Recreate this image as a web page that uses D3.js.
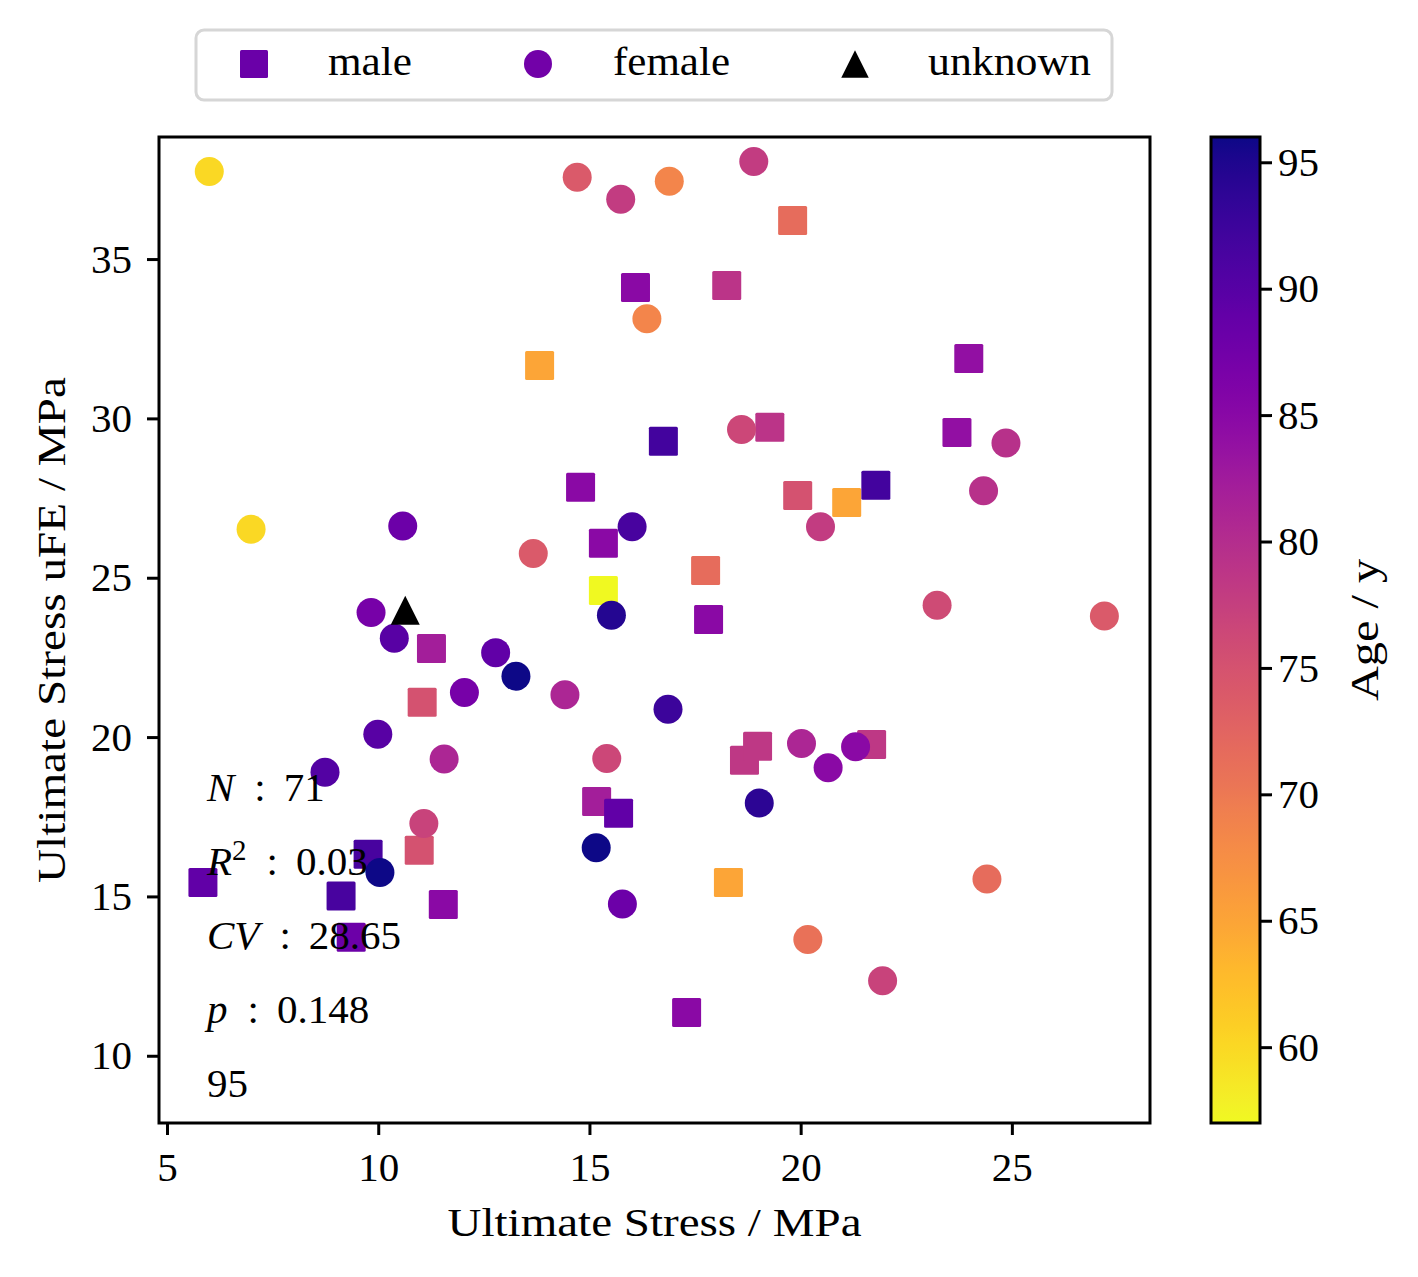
<!DOCTYPE html>
<html>
<head>
<meta charset="utf-8">
<script src="https://cdn.jsdelivr.net/npm/d3@7"></script>
<style>
  body { margin: 0; background: #fff; }
  text { font-family: "Liberation Serif", "DejaVu Serif", serif; fill: #000; }
</style>
</head>
<body>
<script>
// ---- data ----
var maleX   = [16.09, 13.82, 14.79, 15.33, 15.33, 11.26, 19.81, 18.25, 16.75, 19.27, 23.98, 23.70, 19.93, 21.09, 21.78, 17.75,
               17.82, 11.04, 15.17, 15.69, 9.76, 10.97, 5.85, 9.12, 11.54, 9.36, 18.67, 18.98, 21.68, 18.29, 17.30];
var maleY   = [34.11, 31.66, 27.84, 26.08, 24.60, 22.78, 36.21, 34.17, 29.28, 29.72, 31.88, 29.56, 27.58, 27.36, 27.90, 25.23,
               23.69, 21.09, 17.98, 17.61, 16.32, 16.45, 15.44, 15.01, 14.75, 13.72, 19.27, 19.71, 19.77, 15.44, 11.36];
var maleAge = [85, 65, 85, 85, 57, 82, 71.5, 79, 92, 79, 84, 84, 75, 65, 92, 71.5,
               85, 75, 82, 89, 91.5, 75, 89, 91.5, 85, 88, 78.5, 78.5, 78.5, 65, 85];

var femaleX   = [6.00, 14.71, 15.74, 16.36, 6.99, 10.58, 16.01, 13.67, 15.52, 9.83, 10.38, 16.89, 18.89, 18.60, 24.86, 20.47,
                 24.33, 23.23, 27.19, 12.78, 13.26, 12.04, 14.42, 9.99, 11.56, 15.41, 8.74, 15.16, 11.08, 10.04, 15.78, 16.86,
                 20.02, 20.65, 21.30, 19.02, 24.41, 20.17, 21.94];
var femaleY   = [37.75, 37.57, 36.88, 33.13, 26.52, 26.62, 26.60, 25.76, 23.82, 23.91, 23.10, 37.44, 38.06, 29.65, 29.23, 26.60,
                 27.73, 24.14, 23.80, 22.65, 21.91, 21.40, 21.33, 20.09, 19.31, 19.33, 18.90, 16.53, 17.29, 15.75, 14.76, 20.87,
                 19.80, 19.04, 19.70, 17.93, 15.55, 13.65, 12.35];
var femaleAge = [60, 74, 78, 68.5, 60, 88, 91.5, 74, 94.5, 87, 90, 68.5, 78, 76.5, 79.5, 78,
                 79.5, 76, 74, 89, 96, 87, 81, 90, 81, 76.5, 90.5, 96, 77, 96, 88, 92.5,
                 81, 85, 85, 94, 71.5, 71, 77];

var unknownX = [10.64];
var unknownY = [23.98];

var xTicks = [5, 10, 15, 20, 25];
var yTicks = [10, 15, 20, 25, 30, 35];
var ageTicks = [60, 65, 70, 75, 80, 85, 90, 95];

var legendLabels = ["male", "female", "unknown"];
var statNames  = ["N", "R", "CV", "p"];
var statValues = ["71", "0.03", "28.65", "0.148"];
var extraLine = "95";

// ---- layout ----
var W = 1418, H = 1277;
var plot = {left: 159, top: 137, width: 991, height: 986};
var cbar = {left: 1211, width: 49};
var fs = 41;
var mk = 29;   // marker size in px

var svg = d3.select("body").append("svg")
    .attr("width", W)
    .attr("height", H);

var x = d3.scaleLinear().domain([4.81, 28.27]).range([plot.left, plot.left + plot.width]);
var y = d3.scaleLinear().domain([7.89, 38.83]).range([plot.top + plot.height, plot.top]);
var ageScale = d3.scaleLinear().domain([57, 96]).range([plot.top + plot.height, plot.top]);
var color = function(a) { return d3.interpolatePlasma((96 - a) / (96 - 57)); };

function zip(xs, ys, as) {
  return xs.map(function(v, i) { return {x: v, y: ys[i], age: as ? as[i] : null}; });
}

// ---- points ----
var pts = svg.append("g");

pts.selectAll("rect.male")
  .data(zip(maleX, maleY, maleAge))
  .enter().append("rect")
    .attr("class", "male")
    .attr("x", function(d) { return x(d.x) - mk / 2; })
    .attr("y", function(d) { return y(d.y) - mk / 2; })
    .attr("width", mk)
    .attr("height", mk)
    .attr("rx", 1.5)
    .attr("fill", function(d) { return color(d.age); });

pts.selectAll("circle.female")
  .data(zip(femaleX, femaleY, femaleAge))
  .enter().append("circle")
    .attr("class", "female")
    .attr("cx", function(d) { return x(d.x); })
    .attr("cy", function(d) { return y(d.y); })
    .attr("r", mk / 2)
    .attr("fill", function(d) { return color(d.age); });

var tri = "M0," + (-mk / 2) + "L" + (mk / 2) + "," + (mk / 2) + "L" + (-mk / 2) + "," + (mk / 2) + "Z";

pts.selectAll("path.unknown")
  .data(zip(unknownX, unknownY))
  .enter().append("path")
    .attr("class", "unknown")
    .attr("d", tri)
    .attr("transform", function(d) { return "translate(" + x(d.x) + "," + y(d.y) + ")"; })
    .attr("fill", "#000");

// ---- stats text ----
var stats = svg.append("g").style("font-size", fs + "px");
statNames.forEach(function(n, i) {
  var t = stats.append("text")
      .attr("x", 207)
      .attr("y", 801 + i * 74);
  t.append("tspan").style("font-style", "italic").text(n);
  if (n === "R") {
    t.append("tspan").attr("dy", -15).style("font-size", "29px").text("2");
    t.append("tspan").attr("dy", 15).attr("dx", 20).text(":");
  } else {
    t.append("tspan").attr("dx", 20).text(":");
  }
  t.append("tspan").attr("dx", 18).text(statValues[i]);
});
stats.append("text")
    .attr("x", 207)
    .attr("y", 801 + 4 * 74)
    .text(extraLine);

// ---- frame ----
svg.append("rect")
    .attr("x", plot.left)
    .attr("y", plot.top)
    .attr("width", plot.width)
    .attr("height", plot.height)
    .attr("fill", "none")
    .attr("stroke", "#000")
    .attr("stroke-width", 3);

// ---- axes ----
function styleAxis(g) {
  g.select(".domain").remove();
  g.selectAll(".tick line").attr("stroke", "#000").attr("stroke-width", 3);
  g.selectAll(".tick text").style("font-size", fs + "px").attr("font-family", null);
}

svg.append("g")
    .attr("transform", "translate(0," + (plot.top + plot.height) + ")")
    .call(d3.axisBottom(x).tickValues(xTicks).tickSize(12).tickPadding(17).tickFormat(d3.format("d")))
    .call(styleAxis);

svg.append("g")
    .attr("transform", "translate(" + plot.left + ",0)")
    .call(d3.axisLeft(y).tickValues(yTicks).tickSize(12).tickPadding(15).tickFormat(d3.format("d")))
    .call(styleAxis);

svg.append("text")
    .attr("x", plot.left + plot.width / 2)
    .attr("y", 1236)
    .attr("text-anchor", "middle")
    .attr("textLength", 414)
    .attr("lengthAdjust", "spacingAndGlyphs")
    .style("font-size", fs + "px")
    .text("Ultimate Stress / MPa");

svg.append("text")
    .attr("transform", "translate(65," + (plot.top + plot.height / 2) + ")rotate(-90)")
    .attr("text-anchor", "middle")
    .attr("textLength", 506)
    .attr("lengthAdjust", "spacingAndGlyphs")
    .style("font-size", fs + "px")
    .text("Ultimate Stress uFE / MPa");

// ---- colorbar ----
var grad = svg.append("defs").append("linearGradient")
    .attr("id", "agegrad")
    .attr("x1", 0).attr("y1", 1).attr("x2", 0).attr("y2", 0);
d3.range(0, 1.0001, 0.02).forEach(function(t) {
  grad.append("stop")
      .attr("offset", t)
      .attr("stop-color", d3.interpolatePlasma(1 - t));
});

svg.append("rect")
    .attr("x", cbar.left)
    .attr("y", plot.top)
    .attr("width", cbar.width)
    .attr("height", plot.height)
    .attr("fill", "url(#agegrad)")
    .attr("stroke", "#000")
    .attr("stroke-width", 3);

svg.append("g")
    .attr("transform", "translate(" + (cbar.left + cbar.width) + ",0)")
    .call(d3.axisRight(ageScale).tickValues(ageTicks).tickSize(12).tickPadding(6).tickFormat(d3.format("d")))
    .call(styleAxis);

svg.append("text")
    .attr("transform", "translate(1378," + (plot.top + plot.height / 2) + ")rotate(-90)")
    .attr("text-anchor", "middle")
    .attr("textLength", 142)
    .attr("lengthAdjust", "spacingAndGlyphs")
    .style("font-size", fs + "px")
    .text("Age / y");

// ---- legend ----
var legend = svg.append("g");
legend.append("rect")
    .attr("x", 196)
    .attr("y", 30)
    .attr("width", 916)
    .attr("height", 70)
    .attr("rx", 8)
    .attr("fill", "#fff")
    .attr("stroke", "#d6d6d6")
    .attr("stroke-width", 3);

var legMarkX = [254, 538, 855], legTextX = [328, 613, 928], legTextW = [84, 117, 163];
var legColors = ["#6a00a8", "#7201a8", "#000"];
var ly = 64;

legend.append("rect")
    .attr("x", legMarkX[0] - 14).attr("y", ly - 14)
    .attr("width", 28).attr("height", 28).attr("rx", 1.5)
    .attr("fill", legColors[0]);
legend.append("circle")
    .attr("cx", legMarkX[1]).attr("cy", ly).attr("r", 14)
    .attr("fill", legColors[1]);
legend.append("path")
    .attr("d", tri)
    .attr("transform", "translate(" + legMarkX[2] + "," + ly + ")scale(0.95)")
    .attr("fill", legColors[2]);

legendLabels.forEach(function(l, i) {
  legend.append("text")
      .attr("x", legTextX[i])
      .attr("y", 75)
      .attr("textLength", legTextW[i])
      .attr("lengthAdjust", "spacingAndGlyphs")
      .style("font-size", fs + "px")
      .text(l);
});
</script>
</body>
</html>
